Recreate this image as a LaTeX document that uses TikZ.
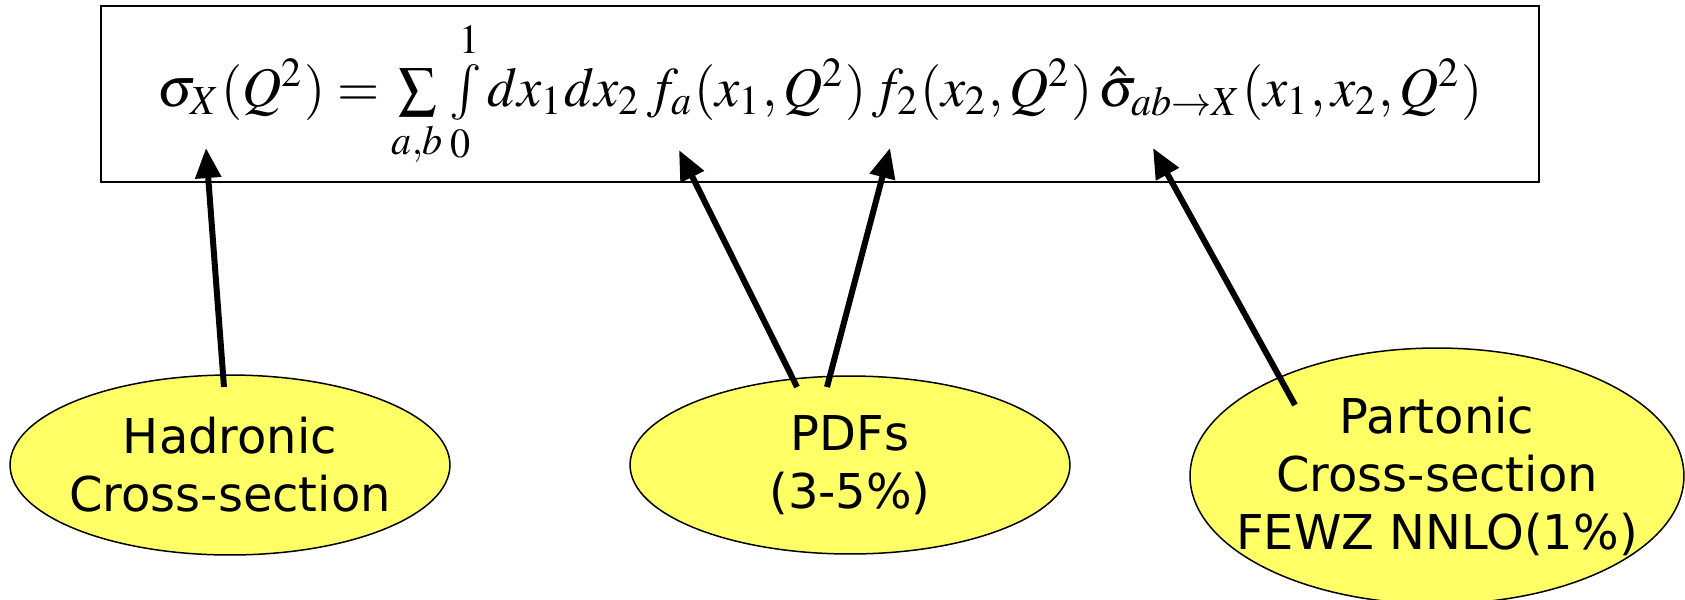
\documentclass[tikz,border=0pt]{standalone}
\usepackage{amsmath}
\usepackage{mathptmx}
\usepackage{fontspec}
\newfontfamily\labelfont{DejaVu Sans}
\usepackage{tikz}
\usetikzlibrary{shapes.geometric, arrows.meta, positioning, calc}
\definecolor{hiyellow}{HTML}{FFFF66}

\begin{document}
\begin{tikzpicture}[x=0.02cm, y=-0.02cm,
  eqbox/.style={draw, line width=0.04cm, minimum width=28.76cm, minimum height=3.52cm, inner sep=0pt},
  bubble/.style={ellipse, draw, line width=0.03cm, fill=hiyellow, inner ysep=0pt, inner xsep=-0.8cm, outer sep=0pt, align=center, font=\labelfont\fontsize{27.3}{33}\selectfont},
  arr/.style={-{Triangle[length=0.6cm, width=0.5cm]}, line width=0.12cm},
]
\useasboundingbox (0,0) rectangle (1685,599);

\node[eqbox] (eq) at (820,94) {\resizebox*{26.5cm}{2.95cm}{$\textstyle \sigma_X(Q^2)=\sum\limits_{a,b}\int\limits_0^1 dx_1dx_2\,f_a(x_1,Q^2)\,f_2(x_2,Q^2)\,\hat\sigma_{ab\to X}(x_1,x_2,Q^2)$}\hspace{0.4cm}};

% Bottom ellipses
\node[bubble, minimum width=8.8cm, minimum height=3.6cm] (had) at (230,465) {Hadronic\\Cross-section};
\node[bubble, minimum width=8.8cm, minimum height=3.56cm] (pdf) at (850,465) {PDFs\\(3-5\%)};
\node[bubble, minimum width=9.88cm, minimum height=5.12cm] (part) at (1437,476) {Partonic\\Cross-section\\FEWZ NNLO(1\%)};

% arrow ends
\coordinate (sigX) at (206,148);
\coordinate (fa) at (679,150);
\coordinate (fb) at (890,148);
\coordinate (shat) at (1153,148);
\coordinate (hadtop) at ($(had.north)+(-6,12)$);
\coordinate (pdfl) at ($(pdf.north)+(-53,11)$);
\coordinate (pdfr) at ($(pdf.north)+(-23,11)$);
\coordinate (parttop) at ($(part.center)+(-142,-71)$);

\foreach \i/\j in {hadtop/sigX, pdfl/fa, pdfr/fb, parttop/shat}
  \draw[arr] (\i) -- (\j);

\end{tikzpicture}
\end{document}
